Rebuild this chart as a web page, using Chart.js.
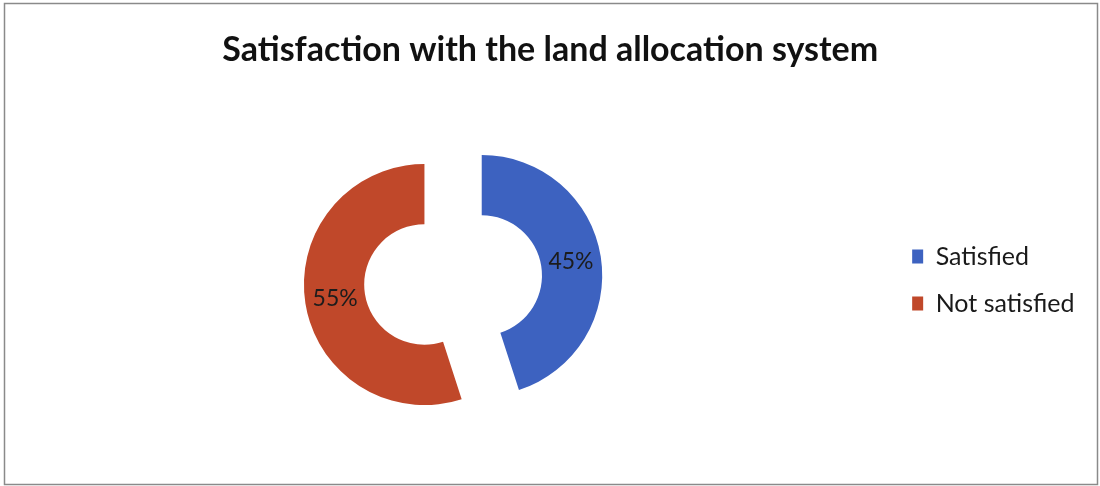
<!DOCTYPE html>
<html>
<head>
<meta charset="utf-8">
<title>Satisfaction with the land allocation system</title>
<script src="https://cdn.jsdelivr.net/npm/chart.js@4.4.1/dist/chart.umd.min.js"></script>
<style>
  html, body { margin: 0; padding: 0; background: #ffffff; }
  #wrap { width: 1100px; height: 486px; }
</style>
</head>
<body>
<div id="wrap"><canvas id="chart" width="1100" height="486"></canvas></div>
<script>
// Survey result: share of respondents satisfied with the land allocation system
const categories = ['Satisfied', 'Not satisfied'];
const shares = [45, 55];              // percent
const sliceColors = ['#3d62c0', '#c0482a'];
const chartTitle = 'Satisfaction with the land allocation system';

const EXPLODE = 29;                   // px each slice is pulled out along its bisector
const FONT = 'Lato, "Open Sans", "DejaVu Sans", sans-serif';

// Pull every slice out from the centre, then skip the default arc drawing
const explodedSlices = {
  id: 'explodedSlices',
  beforeDatasetDraw(chart, args) {
    const ctx = chart.ctx;
    args.meta.data.forEach(arc => {
      const mid = (arc.startAngle + arc.endAngle) / 2;
      ctx.save();
      ctx.translate(Math.cos(mid) * EXPLODE, Math.sin(mid) * EXPLODE);
      arc.draw(ctx);
      ctx.restore();
    });
    return false;
  }
};

// Percentage label in the middle of each ring segment
const sliceLabels = {
  id: 'sliceLabels',
  afterDatasetsDraw(chart) {
    const ctx = chart.ctx;
    const meta = chart.getDatasetMeta(0);
    const values = chart.data.datasets[0].data;
    ctx.save();
    ctx.font = '23px ' + FONT;
    ctx.fillStyle = '#1c1c1c';
    ctx.textAlign = 'center';
    ctx.textBaseline = 'middle';
    meta.data.forEach((arc, i) => {
      const mid = (arc.startAngle + arc.endAngle) / 2;
      const c = arc.getCenterPoint();
      ctx.fillText(values[i] + '%',
        c.x + Math.cos(mid) * EXPLODE,
        c.y + Math.sin(mid) * EXPLODE);
    });
    ctx.restore();
  }
};

// White page with a thin grey frame
const pageFrame = {
  id: 'pageFrame',
  beforeDraw(chart) {
    const ctx = chart.ctx;
    ctx.save();
    ctx.fillStyle = '#ffffff';
    ctx.fillRect(0, 0, chart.width, chart.height);
    ctx.strokeStyle = '#8a8a8a';
    ctx.lineWidth = 1.5;
    ctx.strokeRect(4.5, 3.5, 1093, 481);
    ctx.restore();
  }
};

new Chart(document.getElementById('chart'), {
  type: 'doughnut',
  data: {
    labels: categories,
    datasets: [{
      data: shares,
      backgroundColor: sliceColors,
      borderWidth: 0
    }]
  },
  options: {
    responsive: false,
    devicePixelRatio: 1,
    animation: false,
    events: [],
    radius: 120.5,
    cutout: '50%',
    layout: { padding: { top: 0, bottom: 6, left: 16, right: 15.5 } },
    plugins: {
      title: {
        display: true,
        text: chartTitle,
        color: '#111111',
        font: { family: FONT, size: 34, weight: 'bold', lineHeight: 1.2 },
        padding: { top: 29.6, bottom: 9.6 }
      },
      legend: {
        display: true,
        position: 'right',
        fullSize: false,
        align: 'center',
        labels: {
          boxWidth: 11,
          boxHeight: 14,
          padding: 22,
          color: '#1a1a1a',
          font: { family: FONT, size: 25 }
        }
      },
      tooltip: { enabled: false }
    }
  },
  plugins: [pageFrame, explodedSlices, sliceLabels]
});
</script>
</body>
</html>
